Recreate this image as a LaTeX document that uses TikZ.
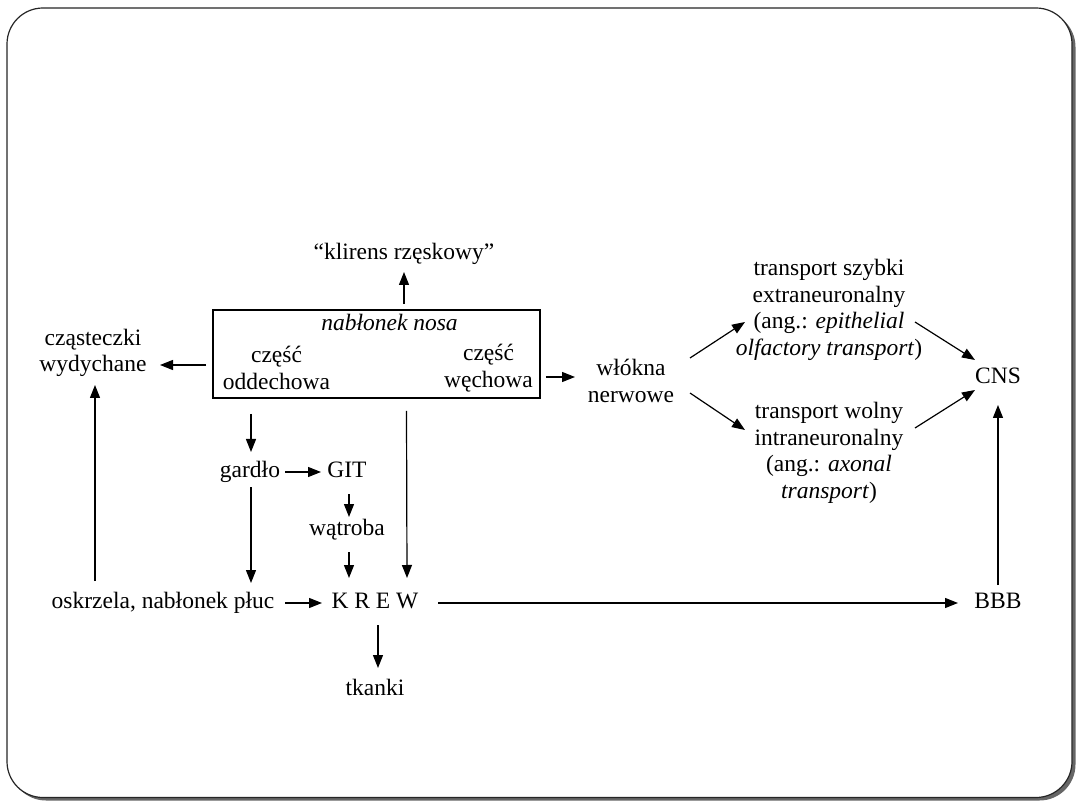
\documentclass[tikz,border=0pt]{standalone}
\usepackage{fontspec}
\setmainfont{Liberation Serif}
\usetikzlibrary{calc,arrows.meta}
\begin{document}
\begin{tikzpicture}[x=1pt,y=-1pt,
  every node/.style={font=\fontsize{23.5}{26.5}\selectfont, inner sep=0pt},
  lbl/.style={text height=15.5pt, text depth=4.5pt},
  ml/.style={align=center},
  arr/.style={line width=1.2pt, -{Triangle[length=13pt,width=10pt]}}]
\useasboundingbox (0,0) rectangle (1080,810);
% frame with shadow
\fill[black!60, rounded corners=36pt] (10,11) rectangle (1075.5,800.5);
\filldraw[fill=white, draw=black!85, line width=1.2pt, rounded corners=36pt] (7,8) rectangle (1072,797.5);

% nodes
\node[lbl] (klir) at (404,254) {“klirens rzęskowy”};
\node[draw, line width=1.8pt, minimum width=327pt, minimum height=88pt] (box) at (376.5,354) {};
\node[lbl] (nab) at (389.5,325) {\itshape nabłonek nosa};
\node[ml] (odd) at (276.5,368) {część\\oddechowa};
\node[ml] (wech) at (488.5,368) {część\\węchowa};
\node[ml] (czast) at (93,353) {cząsteczki\\wydychane};
\node[ml] (wlokna) at (631,381) {włókna\\nerwowe};
\node[ml] (tszyb) at (829,310) {transport szybki\\extraneuronalny\\(ang.: \textit{epithelial}\\\textit{olfactory transport})};
\node[ml] (twol) at (829,453) {transport wolny\\intraneuronalny\\(ang.: \textit{axonal}\\\textit{transport})};
\node[lbl] (cns) at (998,378) {CNS};
\node[lbl] (bbb) at (998,603) {BBB};
\node[lbl] (krew) at (375,603) {K R E W};
\node[lbl] (oskrz) at (163,603) {oskrzela, nabłonek płuc};
\node[lbl] (gardlo) at (250,472) {gardło};
\node[lbl] (git) at (347,472) {GIT};
\node[lbl] (watroba) at (347,530) {wątroba};
\node[lbl] (tkanki) at (375,690) {tkanki};

% connectors
\draw[arr] ($(box.north -| klir)+(0,-5)$) -- ($(klir)+(0,18)$);
\draw[arr] ($(box.west)+(-6,11)$) -- ($(czast)+(67,12)$);
\draw[arr] ($(oskrz)+(-68,-22)$) -- ($(czast)+(2,32)$);
\draw[arr] ($(box.east)+(5,23)$) -- ($(wlokna)+(-56,-4)$);
\draw[arr] ($(wlokna)+(59,-23)$) -- ($(tszyb)+(-84,12)$);
\draw[arr] ($(wlokna)+(59,12)$) -- ($(twol)+(-84,-23)$);
\draw[arr] ($(tszyb)+(86,12)$) -- ($(cns)+(-23,-18)$);
\draw[arr] ($(twol)+(86,-25)$) -- ($(cns)+(-23,12)$);
\draw[arr] ($(bbb)+(0,-18)$) -- ($(cns)+(0,27)$);
\draw[arr] ($(krew)+(63,0)$) -- ($(bbb)+(-40,0)$);
\draw[arr] ($(oskrz)+(122,0)$) -- ($(krew)+(-53,0)$);
\draw[arr] ($(box.south -| gardlo)+(1,15)$) -- ($(gardlo)+(1,-20)$);
\draw[arr] ($(gardlo)+(35,0)$) -- ($(git)+(-26,0)$);
\draw[arr] ($(git)+(2,22)$) -- ($(watroba)+(2,-13)$);
\draw[arr] ($(watroba)+(2,22)$) -- ($(krew)+(-26,-25)$);
\draw[arr] ($(gardlo)+(1,15)$) -- ($(oskrz)+(88,-20)$);
\draw[arr] ($(box.south)+(30,12)$) -- ($(krew)+(32,-25)$);
\draw[arr] ($(krew)+(3,22)$) -- ($(tkanki)+(3,-22)$);
\end{tikzpicture}
\end{document}
